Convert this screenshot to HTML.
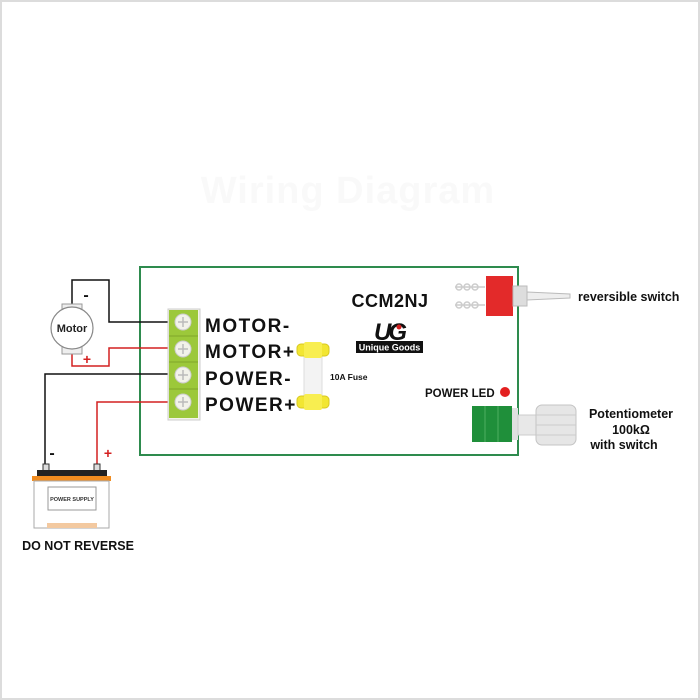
<!DOCTYPE html>
<html><head><meta charset="utf-8"><style>
body{margin:0;width:700px;height:700px;overflow:hidden;background:#fff}
svg{display:block}
text{font-family:"Liberation Sans",sans-serif;font-weight:bold}
</style></head><body>
<svg width="700" height="700" viewBox="0 0 700 700">
<rect x="1" y="1" width="698" height="698" fill="#fff" stroke="#dcdcdc" stroke-width="2"/>
<text x="348" y="203" font-size="38" fill="#f9f9f9" text-anchor="middle" letter-spacing="1">Wiring Diagram</text>
<rect x="140" y="267" width="378" height="188" fill="#fff" stroke="#2e8b4e" stroke-width="2"/>
<g fill="none" stroke-width="1.5">
<path d="M72 308 V280 H109 V322 H168" stroke="#111"/>
<path d="M72 350 V366 H109 V348 H168" stroke="#d42020"/>
<path d="M168 374 H45 V466" stroke="#111"/>
<path d="M168 402 H97 V466" stroke="#d42020"/>
</g>
<text x="86" y="300" font-size="16" fill="#111" text-anchor="middle">-</text>
<text x="87" y="364" font-size="14" fill="#d42020" text-anchor="middle">+</text>
<text x="52" y="458" font-size="16" fill="#111" text-anchor="middle">-</text>
<text x="108" y="458" font-size="14" fill="#d42020" text-anchor="middle">+</text>
<rect x="62" y="304" width="20" height="50" fill="#eee" stroke="#999"/>
<circle cx="72" cy="328" r="21" fill="#fff" stroke="#888" stroke-width="1.2"/>
<text x="72" y="332" font-size="11" fill="#222" text-anchor="middle">Motor</text>
<rect x="43" y="464" width="6" height="7" fill="#ddd" stroke="#333"/>
<rect x="94" y="464" width="6" height="7" fill="#ddd" stroke="#333"/>
<rect x="37" y="470" width="70" height="7" fill="#222"/>
<rect x="32" y="476" width="79" height="5" fill="#f08c20"/>
<rect x="34" y="481" width="75" height="47" fill="#fff" stroke="#aaa"/>
<rect x="48" y="487" width="48" height="23" fill="#fff" stroke="#999"/>
<text x="72" y="501" font-size="5.5" fill="#333" text-anchor="middle">POWER SUPPLY</text>
<rect x="47" y="523" width="50" height="5" fill="#f3c9a0"/>
<text x="78" y="550" font-size="12.5" fill="#111" text-anchor="middle">DO NOT REVERSE</text>
<rect x="168" y="309" width="32" height="111" fill="#f4f4e8" stroke="#ccc"/>
<rect x="169" y="310" width="29" height="108" fill="#9cc83a"/>
<g stroke="#7fa62a"><line x1="169" y1="336" x2="198" y2="336"/><line x1="169" y1="362" x2="198" y2="362"/><line x1="169" y1="389" x2="198" y2="389"/></g>
<g fill="#f2f2ea" stroke="#ccc">
<circle cx="183" cy="322" r="8"/><circle cx="183" cy="349" r="8"/><circle cx="183" cy="375" r="8"/><circle cx="183" cy="402" r="8"/>
</g>
<g stroke="#bbb" stroke-width="1.5">
<path d="M178 322h10M183 317v10M178 349h10M183 344v10M178 375h10M183 370v10M178 402h10M183 397v10"/>
</g>
<g font-size="19" fill="#111" letter-spacing="1.5">
<text x="205" y="332">MOTOR-</text>
<text x="205" y="358">MOTOR+</text>
<text x="205" y="385">POWER-</text>
<text x="205" y="411">POWER+</text>
</g>
<rect x="304" y="345" width="18" height="62" fill="#f3f3f3" stroke="#ddd"/>
<rect x="297" y="344" width="32" height="12" rx="4" fill="#f2e632" stroke="#d8c820"/>
<rect x="297" y="396" width="32" height="12" rx="4" fill="#f2e632" stroke="#d8c820"/>
<rect x="304" y="342" width="18" height="16" rx="2" fill="#f8ee50"/>
<rect x="304" y="394" width="18" height="16" rx="2" fill="#f8ee50"/>
<text x="330" y="380" font-size="8.5" fill="#111">10A Fuse</text>
<text x="390" y="307" font-size="18" fill="#111" text-anchor="middle" letter-spacing="0.5">CCM2NJ</text>
<text x="389" y="340" font-size="24" fill="#111" text-anchor="middle" font-style="italic" letter-spacing="-3">UG</text>
<circle cx="399" cy="327" r="2.5" fill="#d42020"/>
<rect x="356" y="341" width="67" height="12" fill="#111"/>
<text x="389.5" y="350.5" font-size="9" fill="#fff" text-anchor="middle" font-weight="normal">Unique Goods</text>
<g fill="none" stroke="#ccc" stroke-width="1.5">
<path d="M455 287h30M455 305h30"/>
<circle cx="459" cy="287" r="3"/><circle cx="467" cy="287" r="3"/><circle cx="475" cy="287" r="3"/>
<circle cx="459" cy="305" r="3"/><circle cx="467" cy="305" r="3"/><circle cx="475" cy="305" r="3"/>
</g>
<rect x="486" y="276" width="27" height="40" fill="#e32a2a"/>
<rect x="513" y="286" width="14" height="20" fill="#ddd" stroke="#bbb"/>
<path d="M527 292 L570 294 L570 298 L527 300 Z" fill="#eee" stroke="#bbb"/>
<text x="578" y="301" font-size="12.5" fill="#111">reversible switch</text>
<text x="425" y="397" font-size="11.5" fill="#111">POWER  LED</text>
<circle cx="505" cy="392" r="5" fill="#e32020"/>
<rect x="472" y="406" width="40" height="36" fill="#1f8f3a"/>
<line x1="485" y1="406" x2="485" y2="442" stroke="#4caf60"/>
<line x1="498" y1="406" x2="498" y2="442" stroke="#4caf60"/>
<rect x="512" y="408" width="6" height="32" fill="#e0e0e0"/>
<rect x="518" y="415" width="20" height="20" fill="#e8e8e8" stroke="#ccc"/>
<rect x="536" y="405" width="40" height="40" rx="6" fill="#e6e6e6" stroke="#c4c4c4"/>
<g stroke="#ccc"><path d="M536 415h40M536 425h40M536 435h40"/></g>
<g font-size="12.5" fill="#111" text-anchor="middle">
<text x="631" y="418">Potentiometer</text>
<text x="631" y="434">100kΩ</text>
<text x="624" y="449">with switch</text>
</g>
</svg>
</body></html>
